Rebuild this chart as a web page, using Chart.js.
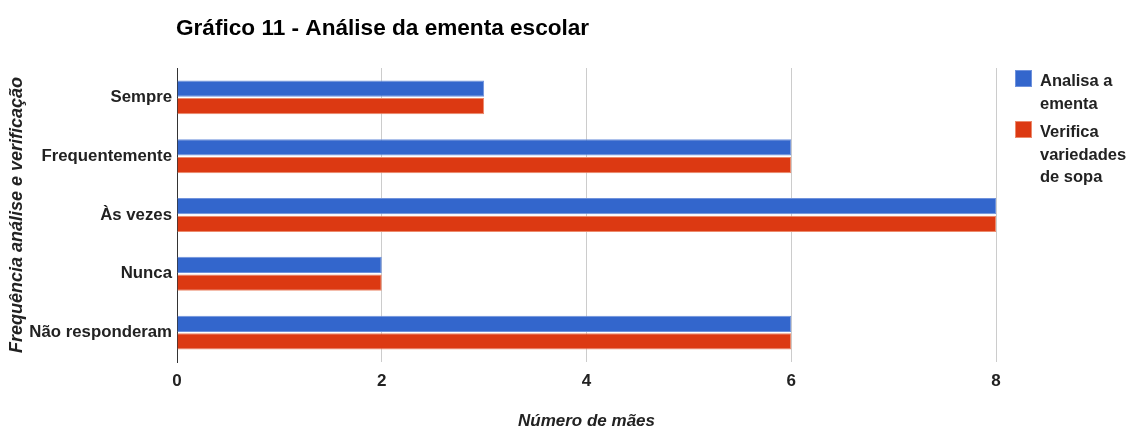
<!DOCTYPE html>
<html lang="pt">
<head>
    <meta charset="UTF-8">
    <title>Gráfico 11 - Análise da ementa escolar</title>
    <script src="https://cdn.jsdelivr.net/npm/chart.js"></script>
    <style>
        body {
            margin: 0;
            background: #fff;
            font-family: "Liberation Sans", Arial, sans-serif;
        }
        .wrap {
            position: relative;
            width: 1129px;
            height: 428px;
        }
        #legend {
            position: absolute;
            left: 1015px;
            top: 69px;
            width: 114px;
        }
        .item {
            display: flex;
            align-items: flex-start;
            margin-bottom: 6px;
        }
        .swatch {
            flex: none;
            width: 15px;
            height: 15px;
            margin-top: 1px;
            margin-right: 8px;
        }
        .label {
            width: 91px;
            font-weight: bold;
            font-size: 16.5px;
            line-height: 22.5px;
            color: #222;
        }
    </style>
</head>
<body>

<div class="wrap">
    <canvas id="grafico" width="1129" height="428"></canvas>
    <div id="legend"></div>
</div>

<script>
    const titulo = "Gráfico 11 - Análise da ementa escolar";
    const categorias = ["Sempre", "Frequentemente", "Às vezes", "Nunca", "Não responderam"];
    const analisaEmenta = [3, 6, 8, 2, 6];
    const verificaSopa = [3, 6, 8, 2, 6];
    const nomesSeries = ["Analisa a ementa", "Verifica variedades de sopa"];
    const ticksX = [0, 2, 4, 6, 8];

    const FONTE = '"Liberation Sans", Arial, sans-serif';
    const cores = ["#3366cc", "#dc3912"];
    const bordas = ["#6f92dc", "#ec8a6c"];

    // titulo alinhado com o inicio da area do grafico
    const tituloPlugin = {
        id: "tituloGrafico",
        afterDraw(chart) {
            const ctx = chart.ctx;
            ctx.save();
            ctx.font = "bold 22.6px " + FONTE;
            ctx.fillStyle = "#000";
            ctx.textBaseline = "alphabetic";
            ctx.fillText(titulo, chart.chartArea.left - 1, 35);
            ctx.restore();
        }
    };

    const grafico = new Chart(document.getElementById("grafico"), {
        type: "bar",
        data: {
            labels: categorias,
            datasets: [
                {
                    label: nomesSeries[0],
                    data: analisaEmenta,
                    backgroundColor: cores[0],
                    borderColor: bordas[0],
                    borderWidth: 1
                },
                {
                    label: nomesSeries[1],
                    data: verificaSopa,
                    backgroundColor: cores[1],
                    borderColor: bordas[1],
                    borderWidth: 1
                }
            ]
        },
        options: {
            indexAxis: "y",
            responsive: false,
            animation: false,
            categoryPercentage: 0.6,
            barPercentage: 0.92,
            layout: {
                padding: { top: 68, right: 133, left: 0, bottom: 0 }
            },
            plugins: {
                legend: { display: false },
                tooltip: { enabled: false }
            },
            scales: {
                x: {
                    min: 0,
                    max: 8,
                    afterBuildTicks: (scale) => {
                        scale.ticks = ticksX.map(v => ({ value: v }));
                    },
                    afterFit: (scale) => { scale.height = 66; },
                    ticks: {
                        color: "#222",
                        padding: 9,
                        font: { family: FONTE, size: 17, weight: "bold" }
                    },
                    grid: {
                        drawTicks: false,
                        color: (c) => (c.tick && c.tick.value === 0 ? "#333" : "#cccccc")
                    },
                    border: { display: false },
                    title: {
                        display: true,
                        text: "Número de mães",
                        color: "#222",
                        padding: { top: 0, bottom: -4 },
                        font: { family: FONTE, size: 17, weight: "bold", style: "italic" }
                    }
                },
                y: {
                    afterFit: (scale) => { scale.width = 177; },
                    ticks: {
                        color: "#222",
                        padding: 5,
                        font: { family: FONTE, size: 16.8, weight: "bold" }
                    },
                    grid: { display: false, drawTicks: false },
                    border: { display: true, color: "#333", width: 1 },
                    title: {
                        display: true,
                        text: "Frequência análise e verificação",
                        color: "#222",
                        padding: { top: 6, bottom: 0 },
                        font: { family: FONTE, size: 18, weight: "bold", style: "italic" }
                    }
                }
            }
        },
        plugins: [tituloPlugin]
    });

    // legenda com quebra de linha, montada a partir dos datasets
    const legenda = document.getElementById("legend");
    grafico.data.datasets.forEach((ds, i) => {
        const item = document.createElement("div");
        item.className = "item";
        const sw = document.createElement("span");
        sw.className = "swatch";
        sw.style.background = ds.backgroundColor;
        sw.style.border = "1px solid " + ds.borderColor;
        const txt = document.createElement("span");
        txt.className = "label";
        txt.textContent = ds.label;
        item.appendChild(sw);
        item.appendChild(txt);
        legenda.appendChild(item);
    });
</script>

</body>
</html>
